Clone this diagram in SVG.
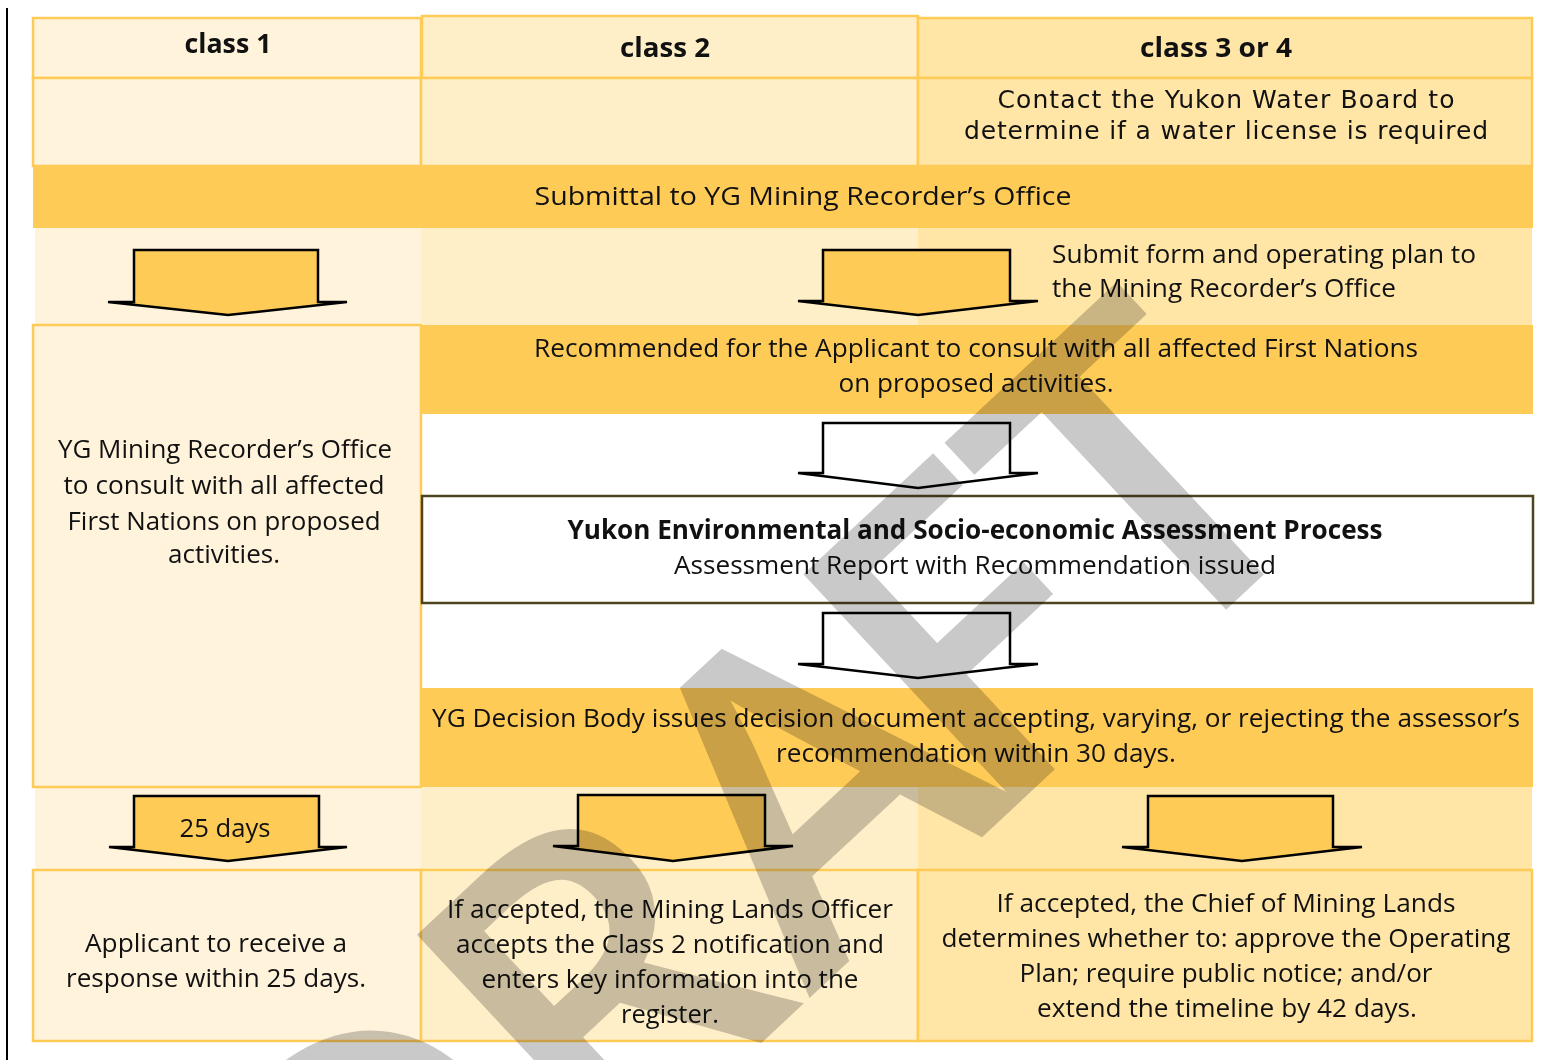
<svg xmlns="http://www.w3.org/2000/svg" width="1548" height="1060" viewBox="0 0 1548 1060">
<defs>
<style>
.t{font-family:"Open Sans","Noto Sans","Liberation Sans",sans-serif;font-size:26px;fill:#111;text-anchor:middle}
.b{font-weight:700}
.dv{font-family:"DejaVu Sans","Liberation Sans",sans-serif;font-size:25px;fill:#111;text-anchor:middle}
.c1{fill:#FFF3DC}
.c2{fill:#FFEFC8}
.c3{fill:#FFE5A6}
.cell{stroke:#FFCB57;stroke-width:2.5}
.band{fill:#FFCB57}
.arr{stroke:#000;stroke-width:2.5;stroke-linejoin:miter}
.ay{fill:#FFCB57}
.aw{fill:#FFFFFF}
.wm{font-family:"Open Sans","Liberation Sans",sans-serif;font-weight:600;font-size:440px;fill:#C9C9C9;mix-blend-mode:multiply;text-anchor:middle}
</style>
</defs>
<rect x="0" y="0" width="1548" height="1060" fill="#FFFFFF"/>
<line x1="7" y1="8" x2="7" y2="1060" stroke="#000" stroke-width="2"/>

<g id="table-backgrounds">
<rect class="c1" x="35" y="228" width="386" height="97"/>
<rect class="c2" x="421" y="228" width="497" height="97"/>
<rect class="c3" x="918" y="228" width="614" height="97"/>
<rect class="c1" x="35" y="787" width="386" height="83"/>
<rect class="c2" x="421" y="787" width="497" height="83"/>
<rect class="c3" x="918" y="787" width="614" height="83"/>
</g>

<g id="header-class1">
<rect class="c1 cell" x="33" y="18" width="388" height="60"/>
<text class="t b" x="228" y="53" font-size="28" textLength="87" lengthAdjust="spacingAndGlyphs">class 1</text>
</g>
<g id="header-class2">
<rect class="c2 cell" x="422" y="16" width="496" height="62" stroke-width="3.5"/>
<text class="t b" x="665" y="57" font-size="28" textLength="90" lengthAdjust="spacingAndGlyphs">class 2</text>
</g>
<g id="header-class34">
<rect class="c3 cell" x="918" y="18" width="614" height="60"/>
<text class="t b" x="1216" y="57" font-size="28" textLength="152" lengthAdjust="spacingAndGlyphs">class 3 or 4</text>
</g>

<g id="row2-class1"><rect class="c1 cell" x="33" y="78" width="388" height="88"/></g>
<g id="row2-class2"><rect class="c2 cell" x="421" y="78" width="497" height="88"/></g>
<g id="water-board">
<rect class="c3 cell" x="918" y="78" width="614" height="88"/>
<text class="dv" x="1226" y="108" textLength="457">Contact the Yukon Water Board to</text>
<text class="dv" x="1226" y="139" textLength="524">determine if a water license is required</text>
</g>

<g id="submittal">
<rect class="band" x="33" y="166" width="1500" height="62"/>
<text class="t" x="803" y="205" textLength="537" lengthAdjust="spacingAndGlyphs">Submittal to YG Mining Recorder’s Office</text>
</g>

<g id="submit-form">
<text class="t" x="1052" y="263" style="text-anchor:start" textLength="424" lengthAdjust="spacingAndGlyphs">Submit form and operating plan to</text>
<text class="t" x="1052" y="297" style="text-anchor:start" textLength="344" lengthAdjust="spacingAndGlyphs">the Mining Recorder’s Office</text>
</g>

<g id="yg-consult">
<rect class="c1 cell" x="33" y="325" width="388" height="462"/>
<text class="t" x="225" y="458" textLength="334" lengthAdjust="spacingAndGlyphs">YG Mining Recorder’s Office</text>
<text class="t" x="224" y="494" textLength="321" lengthAdjust="spacingAndGlyphs">to consult with all affected</text>
<text class="t" x="224" y="530" textLength="313" lengthAdjust="spacingAndGlyphs">First Nations on proposed</text>
<text class="t" x="224" y="563" textLength="112" lengthAdjust="spacingAndGlyphs">activities.</text>
</g>

<g id="applicant-consult">
<rect class="band" x="421" y="325" width="1112" height="89"/>
<text class="t" x="976" y="357" textLength="884" lengthAdjust="spacingAndGlyphs">Recommended for the Applicant to consult with all affected First Nations</text>
<text class="t" x="976" y="392" textLength="275" lengthAdjust="spacingAndGlyphs">on proposed activities.</text>
</g>

<g id="yesab">
<rect x="422" y="496" width="1111" height="107" fill="#FFFFFF" stroke="#4D4420" stroke-width="2.5"/>
<text class="t b" x="975" y="539" textLength="815" lengthAdjust="spacingAndGlyphs">Yukon Environmental and Socio-economic Assessment Process</text>
<text class="t" x="975" y="574" textLength="602" lengthAdjust="spacingAndGlyphs">Assessment Report with Recommendation issued</text>
</g>

<g id="decision">
<rect class="band" x="421" y="688" width="1112" height="99"/>
<text class="t" x="976" y="727" textLength="1088" lengthAdjust="spacingAndGlyphs">YG Decision Body issues decision document accepting, varying, or rejecting the assessor’s</text>
<text class="t" x="976" y="762" textLength="400" lengthAdjust="spacingAndGlyphs">recommendation within 30 days.</text>
</g>

<g id="response-class1">
<rect class="c1 cell" x="33" y="870" width="388" height="171"/>
<text class="t" x="216" y="952" textLength="262" lengthAdjust="spacingAndGlyphs">Applicant to receive a</text>
<text class="t" x="216" y="987" textLength="300" lengthAdjust="spacingAndGlyphs">response within 25 days.</text>
</g>
<g id="response-class2">
<rect class="c2 cell" x="421" y="870" width="497" height="171"/>
<text class="t" x="670" y="918" textLength="446" lengthAdjust="spacingAndGlyphs">If accepted, the Mining Lands Officer</text>
<text class="t" x="670" y="953" textLength="428" lengthAdjust="spacingAndGlyphs">accepts the Class 2 notification and</text>
<text class="t" x="670" y="988" textLength="377" lengthAdjust="spacingAndGlyphs">enters key information into the</text>
<text class="t" x="670" y="1023" textLength="98" lengthAdjust="spacingAndGlyphs">register.</text>
</g>
<g id="response-class34">
<rect class="c3 cell" x="918" y="870" width="614" height="171"/>
<text class="t" x="1226" y="912" textLength="459" lengthAdjust="spacingAndGlyphs">If accepted, the Chief of Mining Lands</text>
<text class="t" x="1226" y="947" textLength="569" lengthAdjust="spacingAndGlyphs">determines whether to: approve the Operating</text>
<text class="t" x="1226" y="982" textLength="413" lengthAdjust="spacingAndGlyphs">Plan; require public notice; and/or</text>
<text class="t" x="1227" y="1017" textLength="380" lengthAdjust="spacingAndGlyphs">extend the timeline by 42 days.</text>
</g>

<g id="connectors">
<path class="arr ay" d="M134,250 H318 V302 H347 L228,315 L108,302 H134 Z"/>
<path class="arr ay" d="M823,250 H1010 V301 H1038 L918,315 L798,301 H823 Z"/>
<path class="arr aw" d="M823,423 H1010 V473 H1038 L918,488 L798,473 H823 Z"/>
<path class="arr aw" d="M823,613 H1010 V664 H1038 L918,678 L798,664 H823 Z"/>
<path class="arr ay" d="M134,796 H319 V847 H347 L228,861 L109,847 H134 Z"/>
<path class="arr ay" d="M578,795 H765 V846 H793 L673,861 L553,846 H578 Z"/>
<path class="arr ay" d="M1148,796 H1333 V847 H1362 L1242,861 L1122,847 H1148 Z"/>
<text class="t" x="225" y="837" textLength="91" lengthAdjust="spacingAndGlyphs">25 days</text>
</g>

<text class="wm" transform="translate(1245,592) rotate(-43)"><tspan x="-1030" y="0">D</tspan><tspan x="-740" y="0">R</tspan><tspan x="-450" y="0">A</tspan><tspan x="-235" y="0">F</tspan><tspan x="0" y="0">T</tspan></text>
</svg>
